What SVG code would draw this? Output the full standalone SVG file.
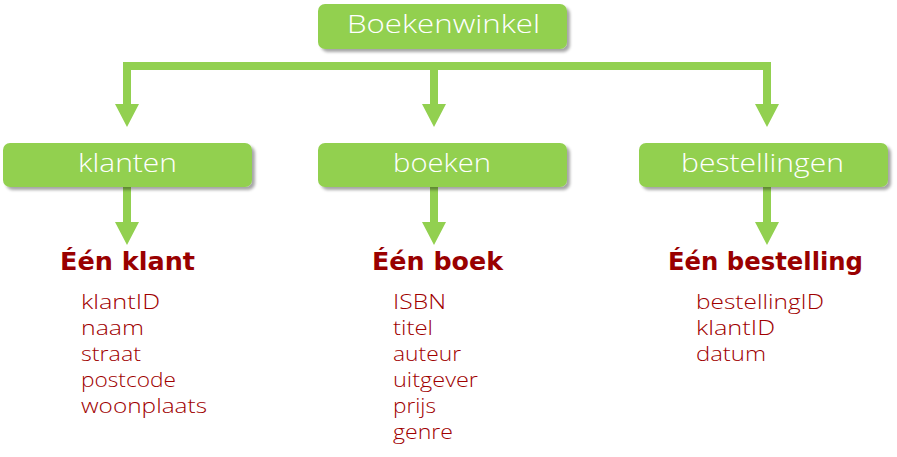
<svg xmlns="http://www.w3.org/2000/svg" width="897" height="457" viewBox="0 0 897 457">
  <defs>
    <filter id="sh" x="-10%" y="-30%" width="120%" height="170%">
      <feDropShadow dx="3" dy="3" stdDeviation="1.5" flood-color="#000" flood-opacity="0.35"/>
    </filter>
  </defs>
  <style>
    .box{fill:#92D050;filter:url(#sh)}
    .bt{font-family:"Open Sans","Noto Sans",sans-serif;font-weight:300;font-size:25px;fill:#fff}
    .hd{font-family:"DejaVu Sans","Noto Sans",sans-serif;font-weight:bold;font-size:25px;fill:#990000}
    .it{font-family:"Open Sans","Noto Sans",sans-serif;font-weight:300;font-size:20px;fill:#a00000}
    .ln{stroke:#92D050;stroke-width:8;fill:none}
  </style>
  <rect width="897" height="457" fill="#fff"/>
  <g id="connectors">
    <path class="ln" d="M127,62 V104 M127,66 H767 M434,66 V104 M767,62 V104"/>
    <path d="M115,104 H139 L127,127 Z M422,104 H446 L434,127 Z M755,104 H779 L767,127 Z" fill="#92D050"/>
    <path class="ln" d="M127,187 V222 M434,187 V222 M767,187 V222"/>
    <path d="M115,222 H139 L127,245 Z M422,222 H446 L434,245 Z M755,222 H779 L767,245 Z" fill="#92D050"/>
  </g>
  <g id="boekenwinkel">
    <rect class="box" x="318" y="4" width="249" height="45" rx="7"/>
    <text class="bt" x="347" y="33" textLength="193" lengthAdjust="spacingAndGlyphs">Boekenwinkel</text>
  </g>
  <g id="klanten">
    <rect class="box" x="3" y="143" width="249" height="44" rx="7"/>
    <text class="bt" x="78" y="172" textLength="99" lengthAdjust="spacingAndGlyphs">klanten</text>
  </g>
  <g id="boeken">
    <rect class="box" x="318" y="143" width="249" height="44" rx="7"/>
    <text class="bt" x="393" y="172" textLength="98" lengthAdjust="spacingAndGlyphs">boeken</text>
  </g>
  <g id="bestellingen">
    <rect class="box" x="639" y="143" width="249" height="44" rx="7"/>
    <text class="bt" x="681" y="172" textLength="163" lengthAdjust="spacingAndGlyphs">bestellingen</text>
  </g>
  <g id="een-klant">
    <text class="hd" x="60" y="270" textLength="135" lengthAdjust="spacingAndGlyphs">Één klant</text>
    <text class="it" x="81" y="309" textLength="79" lengthAdjust="spacingAndGlyphs">klantID</text>
    <text class="it" x="81" y="335" textLength="63" lengthAdjust="spacingAndGlyphs">naam</text>
    <text class="it" x="81" y="361" textLength="60" lengthAdjust="spacingAndGlyphs">straat</text>
    <text class="it" x="81" y="387" textLength="95" lengthAdjust="spacingAndGlyphs">postcode</text>
    <text class="it" x="81" y="413" textLength="126" lengthAdjust="spacingAndGlyphs">woonplaats</text>
  </g>
  <g id="een-boek">
    <text class="hd" x="372" y="270" textLength="131" lengthAdjust="spacingAndGlyphs">Één boek</text>
    <text class="it" x="393" y="309" textLength="53" lengthAdjust="spacingAndGlyphs">ISBN</text>
    <text class="it" x="393" y="335" textLength="40" lengthAdjust="spacingAndGlyphs">titel</text>
    <text class="it" x="393" y="361" textLength="68" lengthAdjust="spacingAndGlyphs">auteur</text>
    <text class="it" x="393" y="387" textLength="85" lengthAdjust="spacingAndGlyphs">uitgever</text>
    <text class="it" x="393" y="413" textLength="43" lengthAdjust="spacingAndGlyphs">prijs</text>
    <text class="it" x="393" y="439" textLength="60" lengthAdjust="spacingAndGlyphs">genre</text>
  </g>
  <g id="een-bestelling">
    <text class="hd" x="668" y="270" textLength="195" lengthAdjust="spacingAndGlyphs">Één bestelling</text>
    <text class="it" x="696" y="309" textLength="128" lengthAdjust="spacingAndGlyphs">bestellingID</text>
    <text class="it" x="696" y="335" textLength="79" lengthAdjust="spacingAndGlyphs">klantID</text>
    <text class="it" x="696" y="361" textLength="70" lengthAdjust="spacingAndGlyphs">datum</text>
  </g>
</svg>
